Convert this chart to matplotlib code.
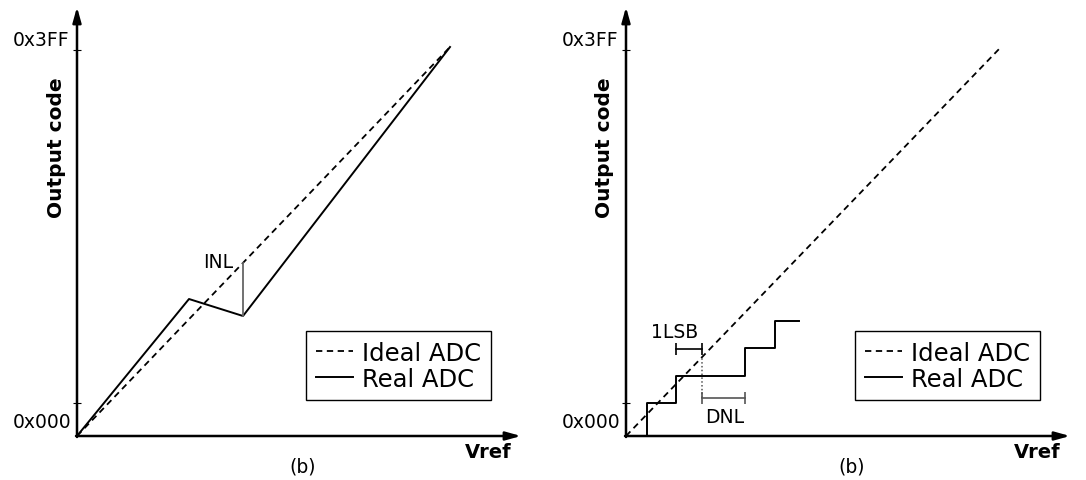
import matplotlib
matplotlib.use("Agg")
import matplotlib.pyplot as plt

# transfer curves, coordinates in Vref units / code units of the sketch
ideal_v = [0, 373]
ideal_code = [0, 389]

# left panel: real ADC with a bump (INL)
real_v = [0, 112, 166, 373]
real_code = [0, 137, 120, 389]
inl_v = 166

# right panel: staircase of a real ADC (DNL)
step_v = [21, 21, 50, 119, 149, 173]
step_code = [0, 33, 60, 88, 115, 115]
lsb_span = [50, 76]
dnl_span = [76, 119]

code_ticks = [33, 386]
code_labels = ["0x000", "0x3FF"]

W, H = 1086, 481
fig = plt.figure(figsize=(W / 100, H / 100), dpi=100)
plt.rcParams["font.family"] = "DejaVu Sans"


def make_axes(x0):
    ax = fig.add_axes([x0 / W, (H - 437) / H, 444 / W, 429 / H])
    ax.set_xlim(0, 444)
    ax.set_ylim(0, 429)
    for s in ax.spines.values():
        s.set_visible(False)
    ax.set_xticks([])
    ax.set_yticks(code_ticks)
    ax.set_yticklabels([])
    ax.tick_params(axis="y", direction="inout", length=6, width=0.8)
    arrow = dict(arrowstyle="-|>,head_width=0.25,head_length=0.9", lw=1.8,
                 color="black", shrinkA=0, shrinkB=0)
    ax.annotate("", xy=(0, 429), xytext=(0, -1), arrowprops=arrow,
                annotation_clip=False)
    ax.annotate("", xy=(444, 0), xytext=(-1, 0), arrowprops=arrow,
                annotation_clip=False)
    ax.annotate(code_labels[1], xy=(0, code_ticks[1]), xytext=(-8, 1),
                textcoords="offset pixels", ha="right", va="bottom",
                fontsize=13.5, annotation_clip=False)
    ax.annotate(code_labels[0], xy=(0, code_ticks[0]), xytext=(-6, -9),
                textcoords="offset pixels", ha="right", va="top",
                fontsize=13.5, annotation_clip=False)
    ax.text(-21, 289, "Output code", rotation=90, ha="center", va="center",
            fontsize=14.5, fontweight="bold", clip_on=False)
    ax.text(411, -16, "Vref", ha="center", va="center", fontsize=14,
            fontweight="bold", clip_on=False)
    ax.text(226, -30, "(b)", ha="center", va="center", fontsize=13.5,
            clip_on=False)
    return ax


def add_legend(ax, handles):
    ax.legend(handles=handles, labels=["Ideal ADC", "Real ADC"],
              loc="upper left", bbox_to_anchor=(229, 105),
              bbox_transform=ax.transData, fontsize=17.5, frameon=True,
              fancybox=False, edgecolor="black", framealpha=1,
              handlelength=1.55, handletextpad=0.35, borderpad=0.4,
              labelspacing=0.08, borderaxespad=0)


dash = (0, (3.5, 2.5))

# left: INL
ax1 = make_axes(77)
h_ideal, = ax1.plot(ideal_v, ideal_code, color="black", lw=1.3, ls=dash)
h_real, = ax1.plot(real_v, real_code, color="black", lw=1.4)
ideal_at_inl = ideal_code[1] * inl_v / ideal_v[1]
ax1.plot([inl_v, inl_v], [real_code[2], ideal_at_inl], color="#666666", lw=1.3)
ax1.text(inl_v - 10, ideal_at_inl + 1, "INL", ha="right", va="center",
         fontsize=13.5)
add_legend(ax1, [h_ideal, h_real])

# right: DNL
ax2 = make_axes(626)
g_ideal, = ax2.plot([0, 375], ideal_code, color="black", lw=1.3, ls=dash)
g_real, = ax2.plot(step_v, step_code, color="black", lw=1.4,
                   drawstyle="steps-post")
lsb_y = 87
ax2.plot(lsb_span, [lsb_y, lsb_y], color="black", lw=1.2,
         marker="|", markersize=8, markeredgewidth=1.2)
ax2.text(sum(lsb_span) / 2 - 14, lsb_y + 17, "1LSB", ha="center",
         va="center", fontsize=13.5)
dnl_y = 38
ideal_at_dnl = 389 * dnl_span[0] / 375
ax2.plot([dnl_span[0], dnl_span[0]], [dnl_y, ideal_at_dnl], color="#555555",
         lw=1.1, ls=(0, (1, 1.5)))
ax2.plot(dnl_span, [dnl_y, dnl_y], color="#555555", lw=1.2,
         marker="|", markersize=8, markeredgewidth=1.2)
ax2.text(sum(dnl_span) / 2 + 1, dnl_y - 19, "DNL", ha="center",
         va="center", fontsize=13.5)
add_legend(ax2, [g_ideal, g_real])

fig.savefig("out.png", dpi=100)
